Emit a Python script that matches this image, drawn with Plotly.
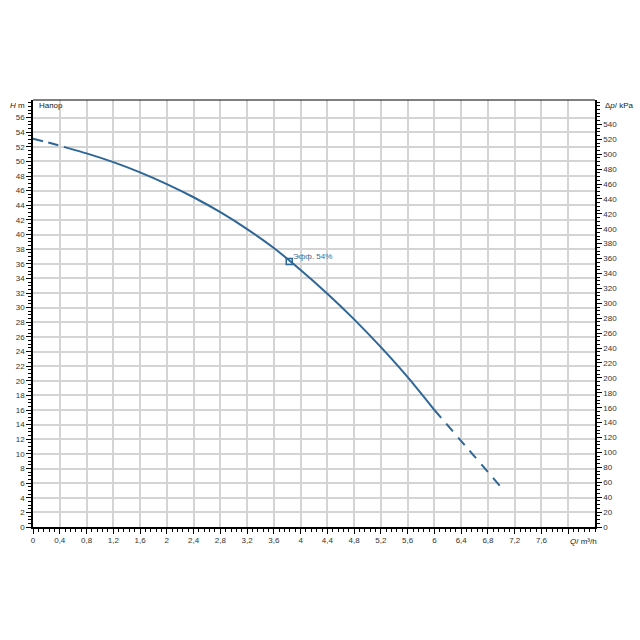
import plotly.graph_objects as go

# Data
q_flow = [0.0, 0.2, 0.4, 0.55, 0.8, 1.2, 1.6, 2.0, 2.4, 2.8, 3.2, 3.6, 4.0, 4.4, 4.8, 5.2, 5.6, 6.0, 6.5, 7.0]
h_head = [53.1, 52.65, 52.15, 51.75, 51.1, 49.9, 48.5, 46.9, 45.1, 43.05, 40.75, 38.15, 35.15, 31.9, 28.4, 24.6, 20.5, 16.0, 10.7, 5.4]
q_solid_start = 0.55
q_solid_end = 6.0
duty_q = [3.83]
duty_h = [36.3]
duty_label = "Эфф. 54%"
x_ticks = [0, 0.4, 0.8, 1.2, 1.6, 2.0, 2.4, 2.8, 3.2, 3.6, 4.0, 4.4, 4.8, 5.2, 5.6, 6.0, 6.4, 6.8, 7.2, 7.6]
x_ticktext = ["0", "0,4", "0,8", "1,2", "1,6", "2", "2,4", "2,8", "3,2", "3,6", "4", "4,4", "4,8",
              "5,2", "5,6", "6", "6,4", "6,8", "7,2", "7,6"]
y_ticks = list(range(0, 57, 2))
kpa_ticks = list(range(0, 541, 20))

RHO_G = 9.80665
X_MAX = 8.4
Y_MAX = 58.4

LINE = "#2e6797"
GRID = "#d4d4d4"
FONT = "Liberation Sans, Arial, sans-serif"

seg_start = [(q, h) for q, h in zip(q_flow, h_head) if q <= q_solid_start]
seg_solid = [(q, h) for q, h in zip(q_flow, h_head) if q_solid_start <= q <= q_solid_end]
seg_end = [(q, h) for q, h in zip(q_flow, h_head) if q >= q_solid_end]

fig = go.Figure()
for seg, dash in [(seg_start, "10px,6px"), (seg_solid, "solid"), (seg_end, "10px,8px")]:
    fig.add_trace(go.Scatter(
        x=[p[0] for p in seg], y=[p[1] for p in seg], mode="lines",
        line=dict(color=LINE, width=2, dash=dash, shape="spline", smoothing=0.8),
        showlegend=False, hoverinfo="skip"))

fig.add_trace(go.Scatter(
    x=duty_q, y=duty_h, mode="markers",
    marker=dict(symbol="square-open", size=6, color=LINE, line=dict(width=1.5, color=LINE)),
    showlegend=False, hoverinfo="skip"))

# invisible trace to activate right axis
fig.add_trace(go.Scatter(x=[0], y=[0], yaxis="y2", mode="markers",
                         marker=dict(opacity=0), showlegend=False, hoverinfo="skip"))

tickfont = dict(family=FONT, size=8, color="#333333")

fig.update_layout(
    width=640, height=640,
    margin=dict(l=33, r=45, t=100, b=113),
    paper_bgcolor="white", plot_bgcolor="white",
    font=dict(family=FONT, size=8, color="#333333"),
    xaxis=dict(range=[0, X_MAX], tickvals=x_ticks + [8.0], ticktext=x_ticktext + [""],
               showgrid=True, gridcolor=GRID, gridwidth=1.5,
               ticks="outside", ticklen=5, tickwidth=1, tickcolor="black",
               showline=True, linecolor="black", linewidth=1.5, mirror=False,
               zeroline=False, tickfont=tickfont,
               minor=dict(dtick=0.08, tick0=0, ticks="outside", ticklen=3, tickcolor="black", showgrid=False)),
    yaxis=dict(range=[0, Y_MAX], tickvals=y_ticks, ticktext=[str(v) for v in y_ticks],
               showgrid=True, gridcolor=GRID, gridwidth=1.5,
               ticks="outside", ticklen=5, tickwidth=1, tickcolor="black",
               showline=True, linecolor="black", linewidth=1.5,
               zeroline=False, tickfont=tickfont,
               minor=dict(dtick=0.5, tick0=0, ticks="outside", ticklen=3, tickcolor="black", showgrid=False)),
    yaxis2=dict(range=[0, Y_MAX * RHO_G], overlaying="y", side="right",
                tickvals=kpa_ticks, ticktext=[str(v) for v in kpa_ticks],
                showgrid=False, ticks="outside", ticklen=5, tickwidth=1, tickcolor="black",
                showline=True, linecolor="black", linewidth=1.5, zeroline=False, tickfont=tickfont,
                minor=dict(dtick=5, tick0=0, ticks="outside", ticklen=3, tickcolor="black", showgrid=False)),
    shapes=[dict(type="line", xref="paper", yref="paper", x0=0, x1=1, y0=1, y1=1,
                 line=dict(color="black", width=1))],
    annotations=[
        dict(text=duty_label, xref="x", yref="y", x=duty_q[0] + 0.03, y=duty_h[0] + 0.7,
             xanchor="left", yanchor="middle", showarrow=False,
             font=dict(family=FONT, size=8, color="#3d6a8f")),
        dict(text="<i>H</i> m", xref="paper", yref="paper", x=-0.01, y=0.986,
             xanchor="right", yanchor="middle", showarrow=False, font=dict(size=8, color="#222")),
        dict(text="Напор", xref="paper", yref="paper", x=0.007, y=0.986,
             xanchor="left", yanchor="middle", showarrow=False, font=dict(size=8, color="#222")),
        dict(text="Δ<i>p</i>/ kPa", xref="paper", yref="paper", x=1.014, y=0.986,
             xanchor="left", yanchor="middle", showarrow=False, font=dict(size=8, color="#222")),
        dict(text="<i>Q</i>/ m³/h", xref="x", yref="paper", x=8.0, y=-0.033,
             xanchor="left", yanchor="middle", showarrow=False, font=dict(size=8, color="#222")),
    ],
)

fig.write_html("out.html")
